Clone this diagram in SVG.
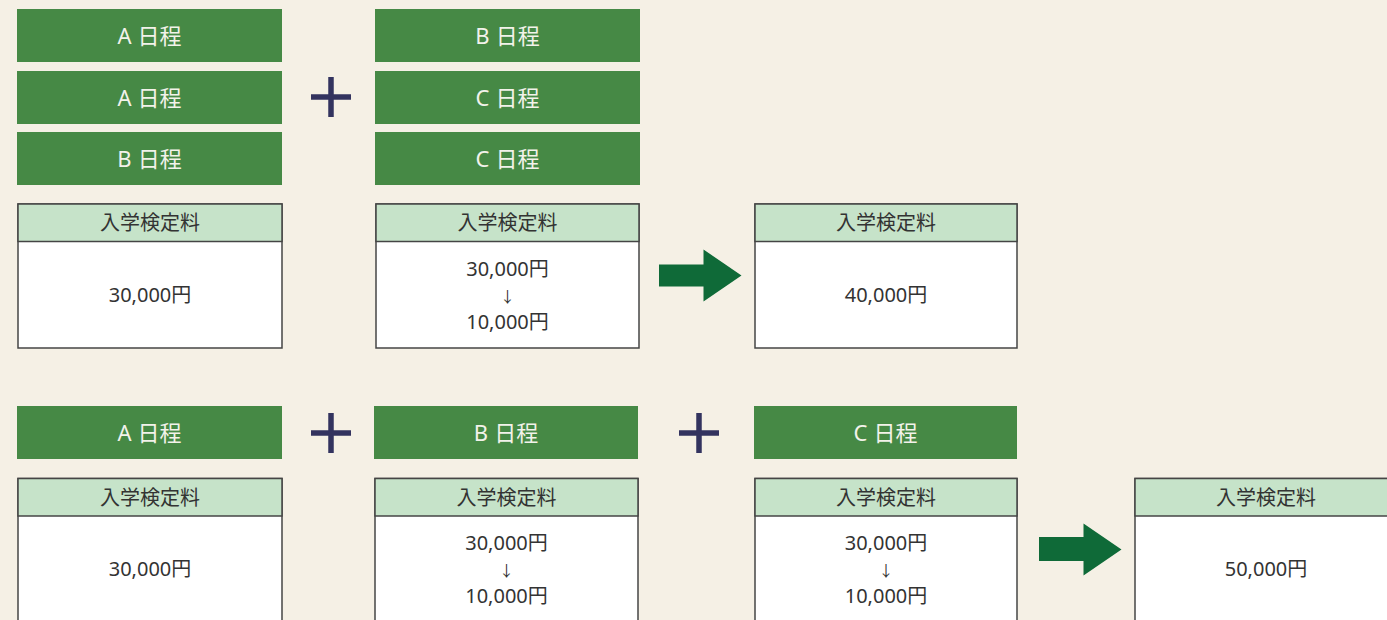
<svg xmlns="http://www.w3.org/2000/svg" width="1387" height="620" viewBox="0 0 1387 620">
<style>
.bar{fill:#468945}
.bt{fill:#f2f2ea;font-family:"Noto Sans","Noto Sans CJK JP",sans-serif;font-size:22px;text-anchor:middle}
.box{fill:#ffffff;stroke:#454545;stroke-width:1.5}
.hd{fill:#c6e3c9;stroke:#454545;stroke-width:1.5}
.ht{fill:#333333;font-family:"Noto Sans CJK JP",sans-serif;font-size:20px;text-anchor:middle}
.ft{fill:#333333;font-family:"Noto Sans","Noto Sans CJK JP",sans-serif;font-size:20px;text-anchor:middle}
.dn{fill:#333333;font-family:"Noto Sans","Noto Sans CJK JP",sans-serif;font-size:15px;text-anchor:middle}
.plus{stroke:#33335f;stroke-width:5.5;fill:none}
.arr{fill:#0f6a38}
</style>
<rect width="1387" height="620" fill="#f5f0e5"/>
<defs>
<path id="plusShape" d="M-20 0H20M0 -20V20" class="plus"/>
</defs>

<g id="bar-a1"><rect class="bar" x="17" y="9" width="265" height="53"/><text class="bt" x="149.5" y="44">A<tspan dx="6">日程</tspan></text></g>
<g id="bar-a2"><rect class="bar" x="17" y="71" width="265" height="53"/><text class="bt" x="149.5" y="106">A<tspan dx="6">日程</tspan></text></g>
<g id="bar-b1"><rect class="bar" x="17" y="132" width="265" height="53"/><text class="bt" x="149.5" y="167">B<tspan dx="6">日程</tspan></text></g>
<g id="bar-b2"><rect class="bar" x="375" y="9" width="265" height="53"/><text class="bt" x="507.5" y="44">B<tspan dx="6">日程</tspan></text></g>
<g id="bar-c1"><rect class="bar" x="375" y="71" width="265" height="53"/><text class="bt" x="507.5" y="106">C<tspan dx="6">日程</tspan></text></g>
<g id="bar-c2"><rect class="bar" x="375" y="132" width="265" height="53"/><text class="bt" x="507.5" y="167">C<tspan dx="6">日程</tspan></text></g>

<g id="fee1"><rect class="box" x="18" y="204" width="264" height="144"/><rect class="hd" x="18" y="204" width="264" height="37.5"/><text class="ht" x="150" y="230">入学検定料</text><text class="ft" x="150" y="302">30,000円</text></g>
<g id="fee2"><rect class="box" x="376" y="204" width="263" height="144"/><rect class="hd" x="376" y="204" width="263" height="37.5"/><text class="ht" x="507.5" y="230">入学検定料</text><text class="ft" x="507.5" y="276">30,000円</text><text class="dn" x="507.5" y="302">↓</text><text class="ft" x="507.5" y="329">10,000円</text></g>
<g id="fee3"><rect class="box" x="755" y="204" width="262" height="144"/><rect class="hd" x="755" y="204" width="262" height="37.5"/><text class="ht" x="886" y="230">入学検定料</text><text class="ft" x="886" y="302">40,000円</text></g>

<g id="bar-a3"><rect class="bar" x="17" y="406" width="265" height="53"/><text class="bt" x="149.5" y="441">A<tspan dx="6">日程</tspan></text></g>
<g id="bar-b3"><rect class="bar" x="374" y="406" width="264" height="53"/><text class="bt" x="506" y="441">B<tspan dx="6">日程</tspan></text></g>
<g id="bar-c3"><rect class="bar" x="754" y="406" width="263" height="53"/><text class="bt" x="885.5" y="441">C<tspan dx="6">日程</tspan></text></g>

<g id="fee4"><rect class="box" x="18" y="478.5" width="264" height="150"/><rect class="hd" x="18" y="478.5" width="264" height="37.5"/><text class="ht" x="150" y="505">入学検定料</text><text class="ft" x="150" y="576">30,000円</text></g>
<g id="fee5"><rect class="box" x="375" y="478.5" width="263" height="150"/><rect class="hd" x="375" y="478.5" width="263" height="37.5"/><text class="ht" x="506.5" y="505">入学検定料</text><text class="ft" x="506.5" y="550">30,000円</text><text class="dn" x="506.5" y="576">↓</text><text class="ft" x="506.5" y="603">10,000円</text></g>
<g id="fee6"><rect class="box" x="755" y="478.5" width="262" height="150"/><rect class="hd" x="755" y="478.5" width="262" height="37.5"/><text class="ht" x="886" y="505">入学検定料</text><text class="ft" x="886" y="550">30,000円</text><text class="dn" x="886" y="576">↓</text><text class="ft" x="886" y="603">10,000円</text></g>
<g id="fee7"><rect class="box" x="1135" y="478.5" width="262" height="150"/><rect class="hd" x="1135" y="478.5" width="262" height="37.5"/><text class="ht" x="1266" y="505">入学検定料</text><text class="ft" x="1266" y="576">50,000円</text></g>

<g id="connectors">
<use href="#plusShape" x="331" y="97"/>
<use href="#plusShape" x="331" y="433"/>
<use href="#plusShape" x="699" y="433"/>
<path class="arr" d="M659 264.5H703.5V249.5L741.5 275.5L703.5 301.5V286.5H659Z"/>
<path class="arr" d="M1039 537H1083.5V523.5L1121.5 549.5L1083.5 575.5V561H1039Z"/>
</g>
</svg>
